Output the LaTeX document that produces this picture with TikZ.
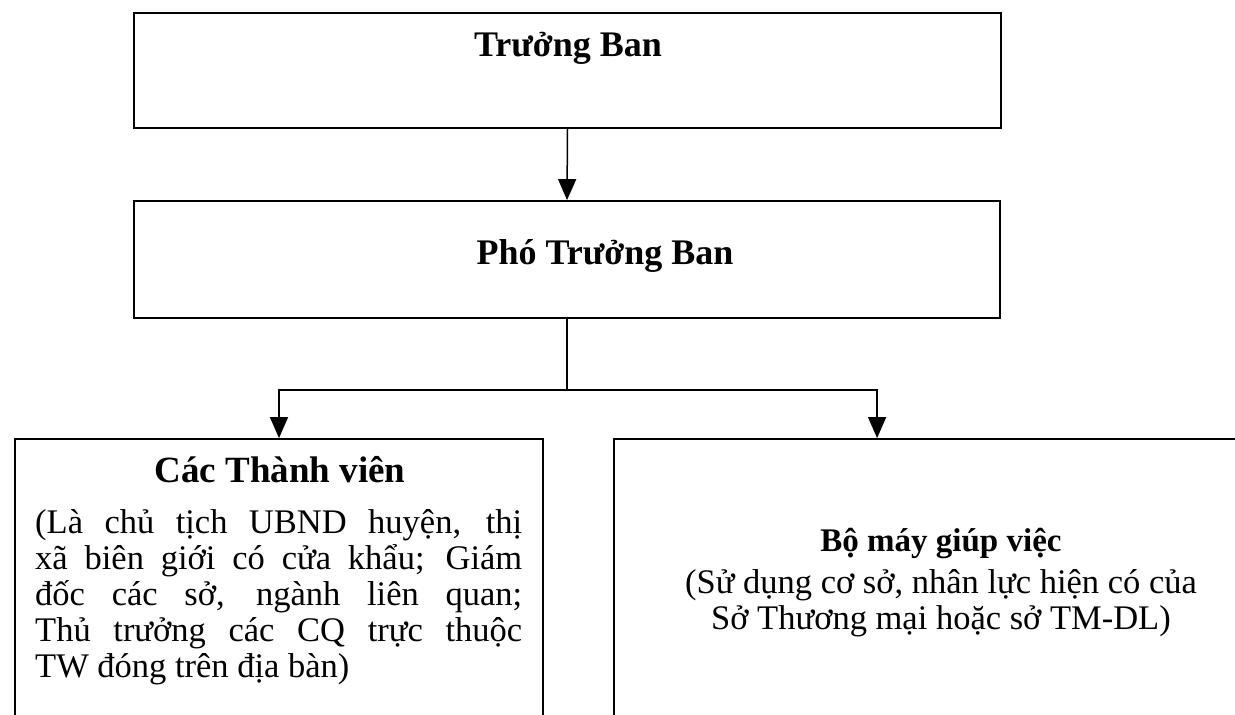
\documentclass[tikz,border=0pt]{standalone}
\usepackage{fontspec}
\setmainfont{Liberation Serif}
\usetikzlibrary{arrows.meta,positioning}
\tikzset{>={Triangle[width=18pt,length=21pt]}}
\tikzset{khung/.style={draw,line width=1.8pt,inner sep=0pt},
  tieude/.style={font=\fontsize{36}{40}\selectfont\bfseries,inner sep=0pt},
  noidung/.style={font=\fontsize{34.5}{36}\selectfont,inner sep=0pt}}

\begin{document}
\begin{tikzpicture}[x=1pt,y=-1pt]
\clip (0,0) rectangle (1235,715);
\node[khung,minimum width=867,minimum height=115] (truongban) at (567.5,70.5) {};
\node[khung,minimum width=866,minimum height=117] (photruongban) at (567,259.5) {};
\node[khung,minimum width=528,minimum height=340] (thanhvien) at (279,609) {};
\node[khung,minimum width=656,minimum height=340] (bomay) at (942,609) {};
\node[tieude,anchor=base] (truongbanchu) at (568,56) {Trưởng Ban};
\node[tieude,anchor=base] (photruongbanchu) at (605,264) {Phó Trưởng Ban};
\node[tieude,font=\fontsize{37}{40}\selectfont\bfseries,anchor=base] (thanhvienchu) at (280,482) {Các Thành viên};
\node[noidung,anchor=base west,text width=487,align=justify] (thanhviennd) at (35,533)
  {\tolerance=10000\hbadness=10000\hyphenpenalty=10000
   (Là chủ tịch UBND huyện, thị\linebreak xã biên giới có cửa khẩu; Giám\linebreak
   đốc các sở, ngành liên quan;\linebreak Thủ trưởng các CQ trực thuộc\linebreak
   TW đóng trên địa bàn)};
\node[tieude,font=\fontsize{33}{40}\selectfont\bfseries,anchor=base] (bomaychu) at (941,551) {Bộ máy giúp việc};
\node[noidung,anchor=base,align=center] (bomaynd) at (941,629)
  {(Sử dụng cơ sở, nhân lực hiện có của\\Sở Thương mại hoặc sở TM-DL)};
\coordinate (renhanh) at (567,390);
\draw[line width=1.5pt,->] (truongban.south) -- (photruongban.north);
\draw[line width=1.5pt] (photruongban.south) -- (renhanh);
\draw[line width=1.5pt,->] (renhanh) -| (thanhvien.north);
\draw[line width=1.5pt,->] (renhanh) -| ([xshift=264pt]bomay.north west);
\end{tikzpicture}
\end{document}
